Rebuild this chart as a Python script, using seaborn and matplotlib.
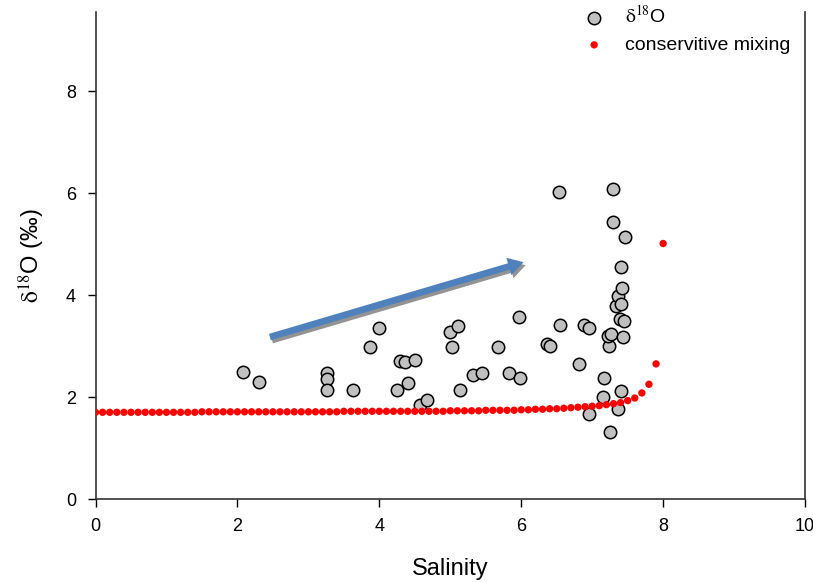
import numpy as np
import pandas as pd
import matplotlib
matplotlib.use("Agg")
import matplotlib.pyplot as plt
import matplotlib.patheffects as pe
import seaborn as sns

# measured samples
salinity = [2.08, 2.30, 3.26, 3.26, 3.26, 3.63, 3.87, 4.00, 4.25, 4.29,
            4.36, 4.41, 4.50, 4.57, 4.67, 4.99, 5.02, 5.11, 5.14, 5.32,
            5.45, 5.67, 5.83, 5.97, 5.98, 6.36, 6.41, 6.53, 6.55, 6.81,
            6.89, 6.96, 6.95, 7.16, 7.15, 7.25, 7.24, 7.23, 7.26, 7.29,
            7.29, 7.33, 7.37, 7.39, 7.37, 7.41, 7.42, 7.41, 7.41, 7.44,
            7.45, 7.46]
d18o = [2.49, 2.29, 2.47, 2.35, 2.14, 2.14, 2.98, 3.35, 2.14, 2.71,
        2.69, 2.27, 2.73, 1.84, 1.94, 3.27, 2.98, 3.39, 2.14, 2.43,
        2.47, 2.98, 2.47, 3.57, 2.37, 3.03, 3.01, 6.02, 3.41, 2.64,
        3.42, 3.35, 1.67, 2.37, 2.01, 1.31, 3.01, 3.20, 3.24, 6.07,
        5.44, 3.78, 3.99, 3.52, 1.76, 3.83, 4.14, 4.54, 2.12, 3.18,
        3.50, 5.14]

# conservative mixing line, sampled every 0.1 salinity units
mix_salinity = np.linspace(0, 8, 81)
mix_d18o = [1.70, 1.70, 1.70, 1.70, 1.70, 1.70, 1.70, 1.70, 1.70, 1.70,
            1.70, 1.70, 1.70, 1.70, 1.70, 1.71, 1.71, 1.71, 1.71, 1.71,
            1.71, 1.71, 1.71, 1.71, 1.71, 1.71, 1.71, 1.71, 1.71, 1.71,
            1.71, 1.71, 1.71, 1.71, 1.71, 1.72, 1.72, 1.72, 1.72, 1.72,
            1.72, 1.72, 1.72, 1.72, 1.72, 1.72, 1.72, 1.72, 1.72, 1.72,
            1.73, 1.73, 1.73, 1.73, 1.73, 1.74, 1.74, 1.74, 1.74, 1.74,
            1.75, 1.75, 1.76, 1.76, 1.77, 1.77, 1.78, 1.79, 1.80, 1.81,
            1.82, 1.83, 1.85, 1.87, 1.89, 1.93, 1.98, 2.08, 2.25, 2.65,
            5.01]

samples = pd.DataFrame({"Salinity": salinity, "d18O": d18o})
mixing = pd.DataFrame({"Salinity": mix_salinity, "d18O": mix_d18o})

sns.set_style("ticks")
plt.rcParams["font.family"] = ["Liberation Sans", "DejaVu Sans"]
plt.rcParams["mathtext.fontset"] = "stix"
plt.rcParams["text.color"] = "black"
plt.rcParams["axes.labelcolor"] = "black"

fig = plt.figure(figsize=(8.13, 5.82), dpi=100)
ax = fig.add_axes([0.1175, 0.1426, 0.8727, 0.8368])

sns.scatterplot(data=samples, x="Salinity", y="d18O", ax=ax, s=80,
                color="#c0c0c0", edgecolor="black", linewidth=1.1,
                label=r"$\mathrm{δ}^{18}$O", zorder=3)
sns.scatterplot(data=mixing, x="Salinity", y="d18O", ax=ax, s=28,
                color="red", edgecolor="none", label="conservitive mixing",
                zorder=4)

# trend arrow
ax.annotate("", xy=(6.07, 4.66), xytext=(2.42, 3.16),
            arrowprops=dict(arrowstyle="simple,head_length=0.55,head_width=0.65,tail_width=0.24",
                            mutation_scale=20, color="#4f81bd", lw=0,
                            path_effects=[pe.SimplePatchShadow(offset=(1.5, -2.2), shadow_rgbFace="#808080", alpha=0.85),
                                          pe.Normal()]),
            zorder=2)

ax.set_xlim(0, 10)
ax.set_ylim(0, 9.55)
ax.set_xticks([0, 2, 4, 6, 8, 10])
ax.set_yticks([0, 2, 4, 6, 8])
ax.tick_params(direction="out", length=6, width=1, labelsize=13, colors="black", pad=8)
for side in ["left", "bottom", "right"]:
    ax.spines[side].set_color("#333333")
    ax.spines[side].set_linewidth(1.2)
ax.spines["top"].set_visible(False)

ax.set_xlabel("Salinity", fontsize=17, labelpad=16)
ax.set_ylabel(r"$\mathrm{δ}^{18}$O (‰)", fontsize=17, labelpad=14)

ax.get_legend().remove()
handles, labels = ax.get_legend_handles_labels()
fig.legend(handles, labels, loc="upper right", bbox_to_anchor=(0.994, 1.022),
           frameon=False, fontsize=14, handletextpad=0.6, labelspacing=0.5,
           markerscale=1.0)

fig.savefig("out.png", dpi=100)
